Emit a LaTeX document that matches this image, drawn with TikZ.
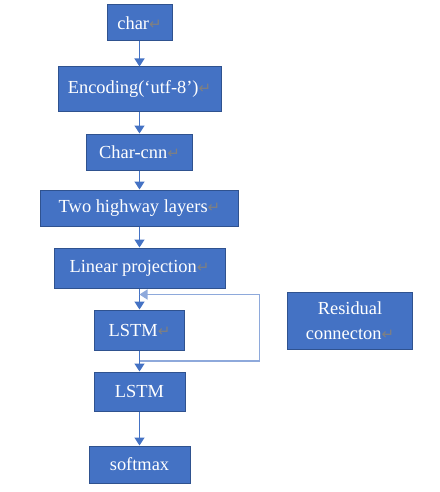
\documentclass[tikz,border=0pt]{standalone}
\usepackage{fontspec}
\setmainfont{Liberation Serif}
\newfontfamily\symfont{DejaVu Sans}
\usetikzlibrary{arrows.meta,positioning,calc}
\definecolor{boxblue}{HTML}{4472C4}
\definecolor{edgeblue}{HTML}{2F528F}
\definecolor{loopblue}{HTML}{8EA9DB}
\newcommand{\pmark}{{\color{gray}\symfont\fontsize{7.5}{7.5}\selectfont ↵}}

\begin{document}
\begin{tikzpicture}[
  font=\fontsize{9.2}{11}\selectfont,
  node distance=10.5pt,
  box/.style={draw=edgeblue,line width=0.5pt,fill=boxblue,text=white,align=center,inner sep=2pt},
  arr/.style={-{Triangle[width=5pt,length=4pt]},line width=0.75pt,color=boxblue},
  res/.style={-{Triangle[width=5pt,length=4pt]},line width=0.8pt,color=loopblue}]
\useasboundingbox (0,0) rectangle (219.5pt,-246pt);
\node[box,minimum width=32.5pt,minimum height=18pt] (chr) at (69.75pt,-11.5pt) {char\pmark};
\node[box,minimum width=81.5pt,minimum height=22.5pt,below=12.5pt of chr] (enc) {Encoding(‘utf-8’)\pmark};
\node[box,minimum width=53pt,minimum height=18pt,below=10.5pt of enc] (cnn) {Char-cnn\pmark};
\node[box,minimum width=99pt,minimum height=18pt,below=9.5pt of cnn] (hwy) {Two highway layers\pmark};
\node[box,minimum width=85.5pt,minimum height=20pt,below=10.5pt of hwy] (lin) {Linear projection\pmark};
\node[box,minimum width=45pt,minimum height=20pt,below=10.5pt of lin] (lstma) {LSTM\pmark};
\node[box,minimum width=45.5pt,minimum height=19.5pt,below=10.5pt of lstma] (lstmb) {LSTM};
\node[box,minimum width=50.5pt,minimum height=18.5pt,below=17pt of lstmb] (soft) {softmax};
\node[box,minimum width=62.5pt,minimum height=28.5pt,right=51pt of lstma,yshift=4.75pt,
  font=\fontsize{9.2}{12.5}\selectfont] (resid) {Residual\\connecton\pmark};
\draw[arr] (chr) -- (enc); \draw[arr] (enc) -- (cnn); \draw[arr] (cnn) -- (hwy);
\draw[arr] (hwy) -- (lin); \draw[arr] (lin) -- (lstma); \draw[arr] (lstma) -- (lstmb);
\draw[arr] (lstmb) -- (soft);
% residual loop
\coordinate[below=3pt of lin.south] (resin);
\coordinate (resout) at ($(lstma.south)!0.5!(lstmb.north)$);
\draw[res] (resout) -- ++(60pt,0) |- (resin);
\end{tikzpicture}
\end{document}
